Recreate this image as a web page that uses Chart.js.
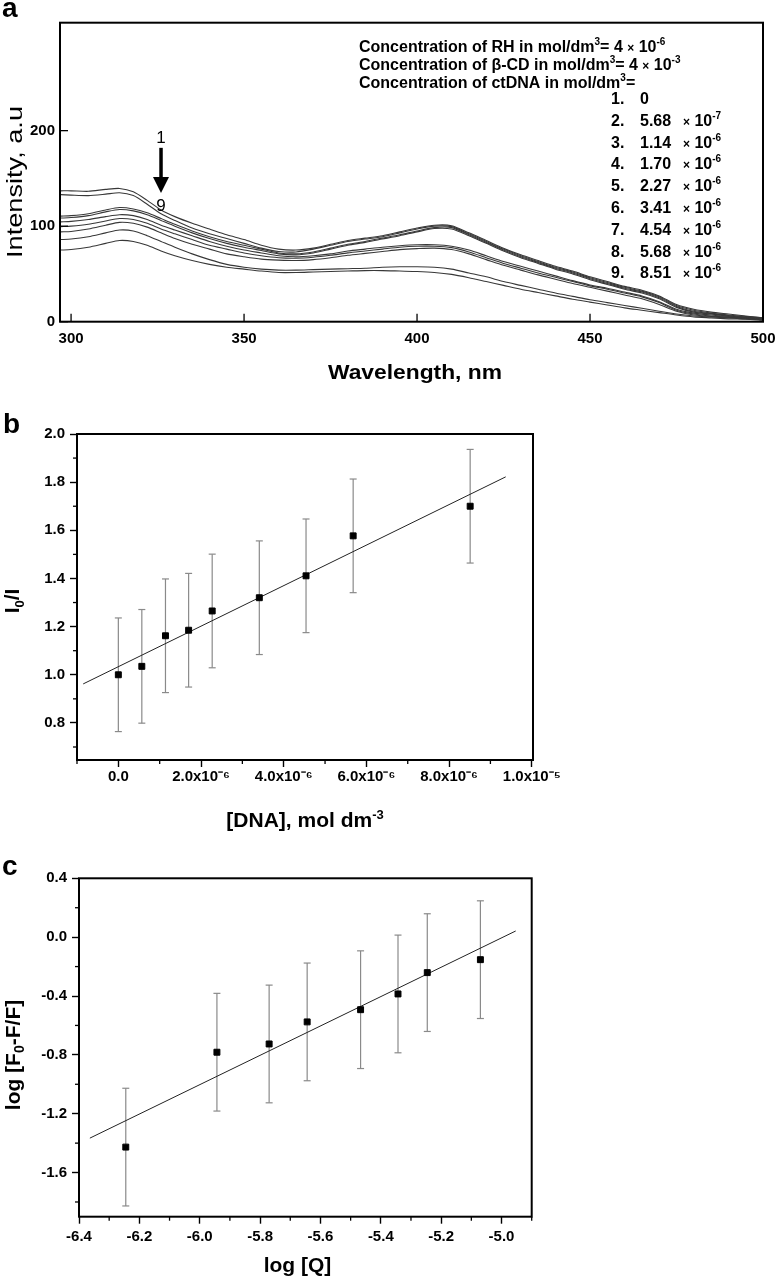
<!DOCTYPE html>
<html><head><meta charset="utf-8">
<script src="https://cdn.jsdelivr.net/npm/chart.js@4.4.0/dist/chart.umd.min.js"></script>
<style>
html,body{margin:0;padding:0;background:#fff;}
#wrap{position:relative;width:781px;height:1281px;overflow:hidden;}
canvas{position:absolute;left:0;}
</style></head><body>
<div id="wrap">
<canvas id="ca" width="781" height="400" style="top:0px"></canvas>
<canvas id="cb" width="781" height="440" style="top:400px"></canvas>
<canvas id="cc" width="781" height="441" style="top:840px"></canvas>
</div>
<script>
// ---------- Panel a: emission spectra ----------
const wavelengths = [297,300,305,310,314,318,322,326,330,335,340,345,350,355,360,365,370,375,380,385,390,395,400,405,410,415,420,425,430,435,440,445,450,455,460,465,470,475,480,485,490,495,500];
const curve1 = [137,137,136.5,138.5,139.5,136,127,117,110,103,97,91,86,80,76,75,77,81,85,87.5,90,94,98,101,100.5,93,85,77,70,64,58,53,47,42,37,33,27,18,13,10,8,6,4];
const curve2 = [133,132.5,132,133.5,135,132,123,113,106,98,92,87,82,77,73.5,73,76,80,84,86.5,89,93,97,100,99.5,92,84,76,69,63,57,52,46,41,36,32,26,17,12,9,7,5.5,4];
const curve3 = [110.5,111,113,117,119.5,118,114,108,102,95,89,84,80,76,72,71,73,77,81,84,87.5,91,95,98.5,98.5,91,83,75,68,62,56,51,45,40,35,31,25,16,11,8.5,6.5,5,3.5];
const curve4 = [108.5,109,111,115,117.5,116,112,106,100,93,87,82,78,74.5,71,70,72,76,80,83,86.5,90,94,97.5,97,90,82,74,67,61,55,50,44,39,34,30,24,15,10,8,6,4.5,3];
const curve5 = [104.5,105,107,110,112,111,107,101,96,90,84,79,75,72,69,68,69,71,74,76,78,79.5,80.5,80.5,79,75,69,63,58,53,48,43,38.5,35,31,27,21,13,9,7,5.5,4,3];
const curve6 = [99.5,100,102,105.5,108,107,103,97,92,86,80,76,72,69,67,66.5,67.5,69.5,72,74,76,78,79,79,77.5,73,67,61,56,51,46.5,42,37.5,34,30,26,20,12,8,6,5,4,2.5];
const curve7 = [94,94.5,97,101,104,103,99,93,87,81,76,71,68,65.5,64.5,64,65,67,69.5,71.5,73.5,75.5,76.5,77,75.5,71,65,59,54,49,44.5,40,36,32,28,24,18,11,7,5.5,4.5,3.5,2];
const curve8 = [86,86.5,89,93,96,95,90,84,78,71,65,60,57,55,54,54,54.5,55,55.5,56,57,57.5,57.5,57,55,51,47,42,38,34,30,26.5,23,20,17,14,11,8,6,5,4,3,2];
const curve9 = [75,75.5,78,82,85,84,80,74,69,64,60,57,55,53,51.5,51.5,52,52.5,53,53.5,53.5,53,52.5,51.5,49.5,46,42,38,34,30.5,27,23.5,20.5,17.5,14.5,12,9.5,7,5,4,3,2.5,1.5];
const curves = [curve1,curve2,curve3,curve4,curve5,curve6,curve7,curve8,curve9];
const xTicksA = [300,350,400,450,500];
const yTicksA = [0,100,200];
const concMantissa = ['0','5.68','1.14','1.70','2.27','3.41','4.54','5.68','8.51'];
const concExponent = ['','-7','-6','-6','-6','-6','-6','-6','-6'];

// ---------- Panel b: Stern-Volmer ----------
const dnaConc = [0,5.68e-7,1.14e-6,1.70e-6,2.27e-6,3.41e-6,4.54e-6,5.68e-6,8.51e-6];
const i0OverI = [1.00,1.035,1.162,1.185,1.265,1.32,1.411,1.577,1.70];
const i0OverIErr = [0.236,0.236,0.236,0.236,0.236,0.236,0.236,0.236,0.236];
const fitBX = [-0.85e-6, 9.37e-6];
const fitBY = [0.962, 1.822];
const xTicksB = [0,2e-6,4e-6,6e-6,8e-6,1e-5];
const xTickLabelsB = ['0.0','2.0x10\u207B\u2076','4.0x10\u207B\u2076','6.0x10\u207B\u2076','8.0x10\u207B\u2076','1.0x10\u207B\u2075'];
const xMinorB = [-1e-6,1e-6,3e-6,5e-6,7e-6,9e-6];
const yTicksB = [0.8,1.0,1.2,1.4,1.6,1.8,2.0];
const yMinorB = [0.7,0.9,1.1,1.3,1.5,1.7,1.9];

// ---------- Panel c: double log ----------
const logQ = [-6.245,-5.943,-5.770,-5.644,-5.467,-5.343,-5.246,-5.070];
const logF = [-1.427,-0.782,-0.726,-0.576,-0.493,-0.386,-0.241,-0.153];
const logFErr = [0.40,0.40,0.40,0.40,0.40,0.40,0.40,0.40];
const fitCX = [-6.364,-4.953];
const fitCY = [-1.366,0.042];
const xTicksC = [-6.4,-6.2,-6.0,-5.8,-5.6,-5.4,-5.2,-5.0];
const xMinorC = [-6.3,-6.1,-5.9,-5.7,-5.5,-5.3,-5.1,-4.9];
const yTicksC = [0.4,0.0,-0.4,-0.8,-1.2,-1.6];
const yMinorC = [0.2,-0.2,-0.6,-1.0,-1.4,-1.8];

// ---------- helpers ----------
const FF = "'Liberation Sans', Arial, sans-serif";
function fnt(size, bold){ return (bold ? 'bold ' : '') + size + 'px ' + FF; }
Chart.defaults.font.family = FF;
Chart.defaults.color = '#000';

function richWidth(ctx, segs){ let w = 0; for (const s of segs){ ctx.font = s.f; w += ctx.measureText(s.t).width; } return w; }
function drawRich(ctx, segs, x, y, opt){
  opt = opt || {};
  const W = richWidth(ctx, segs);
  const sx = opt.width ? opt.width / W : 1;
  ctx.save();
  ctx.translate(x, y);
  if (opt.rotate) ctx.rotate(opt.rotate);
  ctx.scale(sx, 1);
  let cx = opt.align === 'center' ? -W/2 : (opt.align === 'right' ? -W : 0);
  ctx.fillStyle = '#000'; ctx.textBaseline = 'alphabetic'; ctx.textAlign = 'left';
  for (const s of segs){ ctx.font = s.f; ctx.fillText(s.t, cx, s.dy || 0); cx += ctx.measureText(s.t).width; }
  ctx.restore();
}
function fixSize(sz){
  return function(scale){
    if (scale.isHorizontal()) scale.height = sz; else scale.width = sz;
    scale.paddingLeft = 0; scale.paddingRight = 0; scale.paddingTop = 0; scale.paddingBottom = 0;
  };
}
function setTicks(arr){ return function(scale){ scale.ticks = arr.map(v => ({value: v})); }; }
function line(ctx, x1, y1, x2, y2){ ctx.beginPath(); ctx.moveTo(x1, y1); ctx.lineTo(x2, y2); ctx.stroke(); }
function box(ctx, ca){ ctx.save(); ctx.strokeStyle = '#000'; ctx.lineWidth = 2; ctx.strokeRect(ca.left, ca.top, ca.right - ca.left, ca.bottom - ca.top); ctx.restore(); }
function minorTicks(chart, xs, ys, len){
  const ctx = chart.ctx, ca = chart.chartArea, X = chart.scales.x, Y = chart.scales.y;
  ctx.save(); ctx.strokeStyle = '#000'; ctx.lineWidth = 1.3;
  xs.forEach(v => { const px = X.getPixelForValue(v); line(ctx, px, ca.bottom, px, ca.bottom + len); });
  ys.forEach(v => { const py = Y.getPixelForValue(v); line(ctx, ca.left - len, py, ca.left, py); });
  ctx.restore();
}
function errorBars(chart, xv, yv, ev){
  const ctx = chart.ctx, X = chart.scales.x, Y = chart.scales.y;
  ctx.save(); ctx.strokeStyle = '#8a8a8a'; ctx.lineWidth = 1.2;
  for (let i = 0; i < xv.length; i++){
    const px = X.getPixelForValue(xv[i]);
    const pt = Y.getPixelForValue(yv[i] + ev[i]);
    const pb = Y.getPixelForValue(yv[i] - ev[i]);
    line(ctx, px, pt, px, pb);
    line(ctx, px - 3.5, pt, px + 3.5, pt);
    line(ctx, px - 3.5, pb, px + 3.5, pb);
  }
  ctx.restore();
}
const common = {responsive:false, animation:false, devicePixelRatio:1,
  plugins:{legend:{display:false}, tooltip:{enabled:false}}};

// ---------- Chart a ----------
const arrowWl = 326, arrowTop = 182, arrowHeadStart = 151.5, arrowTip = 134.8, label1Y = 187, label9Y = 116;
const plugA = {
  id:'plugA',
  afterDraw(chart){
    const ctx = chart.ctx, ca = chart.chartArea, X = chart.scales.x, Y = chart.scales.y;
    box(ctx, ca);
    ctx.save(); ctx.strokeStyle = '#000'; ctx.lineWidth = 1.3;
    xTicksA.forEach(v => { const px = X.getPixelForValue(v); line(ctx, px, ca.bottom, px, ca.bottom - 8); });
    yTicksA.forEach(v => { const py = Y.getPixelForValue(v); line(ctx, ca.left, py, ca.left + 8, py); });
    ctx.restore();
    // arrow 1 -> 9
    const ax = X.getPixelForValue(arrowWl);
    drawRich(ctx, [{t:'1', f:fnt(17,false)}], ax, Y.getPixelForValue(label1Y), {align:'center'});
    ctx.save(); ctx.strokeStyle = '#000'; ctx.lineWidth = 3.5;
    line(ctx, ax, Y.getPixelForValue(arrowTop), ax, Y.getPixelForValue(arrowHeadStart) + 1);
    ctx.fillStyle = '#000'; ctx.beginPath();
    const hs = Y.getPixelForValue(arrowHeadStart), tip = Y.getPixelForValue(arrowTip);
    ctx.moveTo(ax - 8, hs); ctx.lineTo(ax + 8, hs); ctx.lineTo(ax, tip); ctx.closePath(); ctx.fill();
    ctx.restore();
    drawRich(ctx, [{t:'9', f:fnt(17,false)}], ax, Y.getPixelForValue(label9Y), {align:'center'});
    // annotation text
    const B = fnt(16,true), S = fnt(10,true), M = fnt(12,true);
    drawRich(ctx, [{t:'Concentration of RH in mol/dm', f:B},{t:'3', f:S, dy:-7},{t:'= 4 ', f:B},{t:'\u00D7', f:M},{t:' 10', f:B},{t:'-6', f:S, dy:-7}], 359, 52);
    drawRich(ctx, [{t:'Concentration of \u03B2-CD in mol/dm', f:B},{t:'3', f:S, dy:-7},{t:'= 4 ', f:B},{t:'\u00D7', f:M},{t:' 10', f:B},{t:'-3', f:S, dy:-7}], 359, 70);
    drawRich(ctx, [{t:'Concentration of ctDNA in mol/dm', f:B},{t:'3', f:S, dy:-7},{t:'=', f:B}], 359, 88);
    for (let i = 0; i < concMantissa.length; i++){
      const by = 104 + 21.8 * i;
      drawRich(ctx, [{t:(i+1) + '.', f:B}], 611, by);
      drawRich(ctx, [{t:concMantissa[i], f:B}], 640, by);
      if (concExponent[i]) drawRich(ctx, [{t:'\u00D7', f:M},{t:' 10', f:B},{t:concExponent[i], f:S, dy:-7}], 683, by);
    }
    // axis titles and panel letter
    drawRich(ctx, [{t:'Wavelength, nm', f:fnt(21,true)}], 415, 379, {align:'center', width:174});
    drawRich(ctx, [{t:'Intensity, a.u', f:fnt(22,false)}], 22, 182, {align:'center', rotate:-Math.PI/2, width:152});
    drawRich(ctx, [{t:'a', f:fnt(28,true)}], 2, 17);
  }
};
new Chart(document.getElementById('ca'), {
  type:'line',
  data:{datasets: curves.map((c, i) => ({
    label:'Curve ' + (i+1),
    data: wavelengths.map((w, j) => ({x:w, y:c[j]})),
    borderColor:'#383838', borderWidth:1.1, pointRadius:0, tension:0.25, fill:false
  }))},
  options:Object.assign({}, common, {
    layout:{padding:{left:15, right:18, top:22.7, bottom:38.3}},
    scales:{
      x:{type:'linear', min:296.8, max:500, afterBuildTicks:setTicks(xTicksA), afterFit:fixSize(40),
         grid:{display:false, drawTicks:false}, border:{display:false},
         ticks:{font:{size:15, weight:'bold'}, padding:8, maxRotation:0, autoSkip:false, callback:(v) => String(v)}},
      y:{type:'linear', min:0, max:313, afterBuildTicks:setTicks(yTicksA), afterFit:fixSize(45),
         grid:{display:false, drawTicks:false}, border:{display:false},
         ticks:{font:{size:15, weight:'bold'}, padding:5, autoSkip:false, callback:(v) => String(v)}}
    }
  }),
  plugins:[plugA]
});

// ---------- Chart b ----------
const OFFB = 400;
const plugB = {
  id:'plugB',
  beforeDatasetsDraw(chart){ errorBars(chart, dnaConc, i0OverI, i0OverIErr); },
  afterDraw(chart){
    const ctx = chart.ctx;
    box(ctx, chart.chartArea);
    minorTicks(chart, xMinorB, yMinorB, 4);
    drawRich(ctx, [{t:'[DNA], mol dm', f:fnt(21,true)},{t:'-3', f:fnt(13,true), dy:-8}], 305, 827 - OFFB, {align:'center'});
    drawRich(ctx, [{t:'I', f:fnt(21,true)},{t:'0', f:fnt(13,true), dy:5},{t:'/I', f:fnt(21,true)}], 19, 601 - OFFB, {align:'center', rotate:-Math.PI/2});
    drawRich(ctx, [{t:'b', f:fnt(28,true)}], 3, 433 - OFFB);
  }
};
const tickCommon = {drawOnChartArea:false, drawTicks:true, tickLength:7, tickWidth:1.4, tickColor:'#000'};
new Chart(document.getElementById('cb'), {
  type:'scatter',
  data:{datasets:[
    {label:'I0/I', data: dnaConc.map((x, i) => ({x, y:i0OverI[i]})), pointStyle:'rect', pointRadius:4.2,
     backgroundColor:'#000', borderColor:'#000', borderWidth:1},
    {label:'fit', data: fitBX.map((x, i) => ({x, y:fitBY[i]})), showLine:true, pointRadius:0,
     borderColor:'#222', borderWidth:1}
  ]},
  options:Object.assign({}, common, {
    layout:{padding:{left:17, right:248, top:34, bottom:30}},
    scales:{
      x:{type:'linear', min:-1e-6, max:1.003e-5, afterBuildTicks:setTicks(xTicksB), afterFit:fixSize(50),
         grid:tickCommon, border:{display:false},
         ticks:{font:{size:15, weight:'bold'}, padding:1, maxRotation:0, autoSkip:false, callback:(v, i) => xTickLabelsB[i]}},
      y:{type:'linear', min:0.646, max:2.0, afterBuildTicks:setTicks(yTicksB), afterFit:fixSize(60),
         grid:tickCommon, border:{display:false},
         ticks:{font:{size:15, weight:'bold'}, padding:5, autoSkip:false, callback:(v) => v.toFixed(1)}}
    }
  }),
  plugins:[plugB]
});

// ---------- Chart c ----------
const OFFC = 840;
const plugC = {
  id:'plugC',
  beforeDatasetsDraw(chart){ errorBars(chart, logQ, logF, logFErr); },
  afterDraw(chart){
    const ctx = chart.ctx;
    box(ctx, chart.chartArea);
    minorTicks(chart, xMinorC, yMinorC, 4);
    drawRich(ctx, [{t:'log [Q]', f:fnt(21,true)}], 297.5, 1272 - OFFC, {align:'center'});
    drawRich(ctx, [{t:'log [F', f:fnt(21,true)},{t:'0', f:fnt(14,true), dy:4},{t:'-F/F]', f:fnt(21,true)}], 20, 1055 - OFFC, {align:'center', rotate:-Math.PI/2});
    drawRich(ctx, [{t:'c', f:fnt(28,true)}], 2, 875 - OFFC);
  }
};
new Chart(document.getElementById('cc'), {
  type:'scatter',
  data:{datasets:[
    {label:'log', data: logQ.map((x, i) => ({x, y:logF[i]})), pointStyle:'rect', pointRadius:4.2,
     backgroundColor:'#000', borderColor:'#000', borderWidth:1},
    {label:'fit', data: fitCX.map((x, i) => ({x, y:fitCY[i]})), showLine:true, pointRadius:0,
     borderColor:'#222', borderWidth:1}
  ]},
  options:Object.assign({}, common, {
    layout:{padding:{left:19, right:249.3, top:38.3, bottom:24.3}},
    scales:{
      x:{type:'linear', min:-6.4, max:-4.9, afterBuildTicks:setTicks(xTicksC), afterFit:fixSize(40),
         grid:tickCommon, border:{display:false},
         ticks:{font:{size:15, weight:'bold'}, padding:4, maxRotation:0, autoSkip:false, callback:(v) => v.toFixed(1)}},
      y:{type:'linear', min:-1.9, max:0.4, afterBuildTicks:setTicks(yTicksC), afterFit:fixSize(60),
         grid:tickCommon, border:{display:false},
         ticks:{font:{size:15, weight:'bold'}, padding:5, autoSkip:false, callback:(v) => v.toFixed(1)}}
    }
  }),
  plugins:[plugC]
});
</script>
</body></html>
